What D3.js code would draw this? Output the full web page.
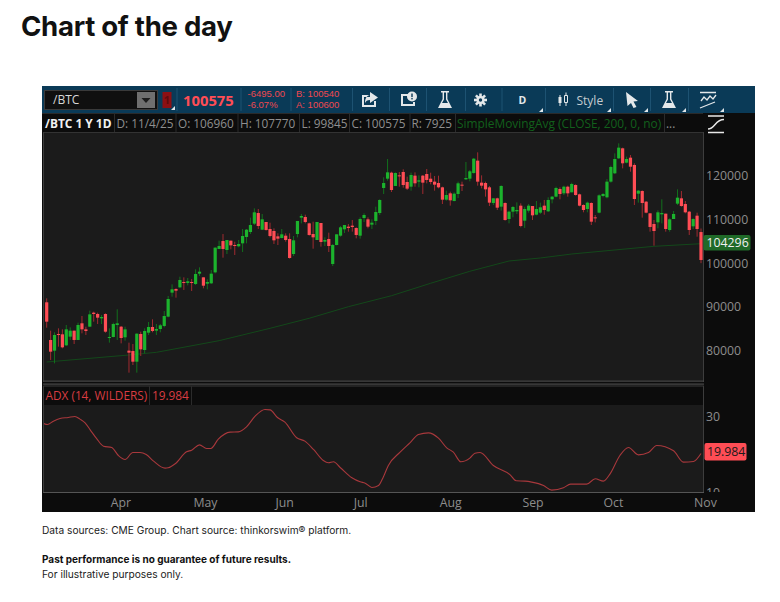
<!DOCTYPE html>
<html>
<head>
<meta charset="utf-8">
<script src="https://cdn.jsdelivr.net/npm/d3@7"></script>
<style>
	html, body { margin: 0; padding: 0; background: #fff; }
	svg { display: block; }
	.tos text { font-family: "Open Sans", sans-serif; }
	.tick line, .domain { display: none; }
</style>
</head>
<body>
<div id="chart"></div>
<script>
// candles, one entry per trading day
const opens = [
	90900,82290,79850,83660,83580,81070,83050,84420,82290,86100,
	84720,85330,88530,88230,87240,88230,82740,82970,85720,85330,
	82900,79850,79770,77330,83660,80000,83960,85260,84420,84800,
	85490,87620,93110,93940,94320,95540,95320,95540,95090,97450,
	96610,95160,95240,97750,103090,104910,102860,104990,104000,103700,
	104380,105830,106970,108880,111310,107500,109260,107660,107200,105980,
	105600,106130,105370,101940,106510,110250,110400,108950,106510,105140,
	109030,104760,105370,99660,104000,106130,107580,108190,108420,107890,
	106130,110170,109870,108650,109490,111310,117030,119160,120530,117490,
	119920,120690,118400,117330,119850,118480,119850,120230,119160,118480,
	118170,117180,114360,115810,114060,115660,117790,119010,119160,120460,
	123280,118250,118170,117180,113600,114670,112760,113600,109940,111620,
	111700,112990,109560,111850,112910,110930,111390,112990,111700,114440,
	115050,116800,115810,117330,116040,117710,115580,113140,112230,113600,
	110320,111390,115200,114900,118480,120380,123810,126100,122820,123960,
	122290,115730,116340,113900,111240,108800,109180,111010,111160,107430,
	109940,113450,114670,113370,111620,108270,110700,106960
];
const highs = [
	91810,84420,84040,84950,84720,85720,85180,84420,86250,87770,
	85330,88990,88760,88530,88000,88380,84950,86250,89300,85490,
	85330,81680,81370,83810,84190,84950,86400,87010,85940,85940,
	88920,92340,95010,94100,96760,96610,96460,96230,98440,98900,
	96610,96150,98290,103470,104990,106510,105140,104990,104760,105140,
	107660,107660,110250,112380,112230,111090,109260,109100,107810,106670,
	107660,106670,106670,106060,109490,111090,110930,109100,109330,109260,
	109030,105750,106820,104230,106440,108340,108570,108800,109710,108040,
	110320,111240,110320,109870,112760,114440,119470,123660,120760,120610,
	120690,121300,119620,120530,120610,119920,120000,121370,120530,119770,
	119850,117330,116420,116190,116040,118480,118480,122970,121140,123890,
	125180,119920,118480,117490,114670,114820,117640,113750,111850,112910,
	113750,113520,112760,113370,112910,114060,113680,114290,114900,115200,
	117330,117180,117560,117560,118250,117870,115730,113300,113910,113750,
	110860,115580,115890,119090,122130,124950,127240,126250,124190,124570,
	122670,116570,116500,114060,111240,109710,111920,114440,111160,110100,
	111770,116720,116340,114060,111770,110100,111390,107770
];
const lows = [
	85100,77720,76950,80760,80380,80910,82290,81370,82290,83810,
	83430,85330,86480,85940,85940,83960,81680,82900,82290,81520,
	82130,74820,76570,74820,78630,79240,83430,84040,83430,84040,
	85180,87470,92190,91960,94170,93720,94780,93490,94860,96920,
	94100,93870,95090,97520,103090,101100,101940,103010,101710,103470,
	102400,104380,106510,108570,107660,107430,107280,105750,104230,104000,
	105520,104760,100880,101490,105750,108950,108950,106130,103160,105140,
	103620,103770,102400,99200,103920,105900,106740,107050,107050,105520,
	105450,109260,107810,107660,108570,110860,115660,118710,116110,117490,
	117330,117110,116570,116420,117330,117180,115660,118100,117870,116420,
	116950,113370,114130,112990,113980,114740,116340,118860,118550,120300,
	117560,116950,115050,112910,113140,112000,111850,109560,108950,110320,
	111090,108040,107890,111390,109710,110780,111090,110930,111540,113520,
	114900,114440,115430,115050,116040,115280,112840,111470,111470,108570,
	109180,111240,114900,114670,118250,120230,123660,121520,122670,120760,
	113140,113680,110250,111240,107050,103850,107810,108950,107050,107050,
	109940,113140,112760,111240,106290,107660,105900,99845
];
const closes = [
	86480,79620,83430,83430,80610,84720,84420,82290,85720,84720,
	84340,88150,88230,87390,87540,84190,82970,85940,86100,82740,
	84720,79390,77330,83730,80150,84340,85260,84340,84800,85640,
	87770,91660,93870,93560,96000,95470,95700,95390,97370,97900,
	94700,95540,97450,103390,103770,103090,105140,103920,103850,104230,
	106060,107500,108570,111470,108340,109870,107430,106060,105070,105450,
	106440,105140,101030,105070,109490,110630,109260,106290,105750,109260,
	104690,105140,103770,104000,106440,108040,108570,107890,108110,106290,
	109940,110860,108190,109100,111540,114290,118170,120610,116570,120460,
	119700,117710,116880,120000,118100,118780,118250,118860,118400,117790,
	117180,114360,115430,114210,115730,118100,117640,119310,120840,123730,
	118480,117560,116720,113680,114670,112530,117490,109710,111620,112690,
	112000,108340,112230,112990,110780,112230,112610,112000,114290,115050,
	117030,115660,117330,115810,117940,115430,112990,112000,113680,109330,
	110100,115350,115660,118480,121830,123660,126250,122670,123660,121900,
	114510,116420,113600,111390,108120,107200,111470,111310,107660,109870,
	111090,114820,112910,111470,107430,109940,107660,100575
];

// 200 day average at a few bars
const smaBars = [0, 21, 28, 44, 57, 67, 77, 88, 98, 108, 118, 126, 134, 155, 167];
const smaValues = [77260, 78860, 79470, 82130, 84960, 87250, 89900, 92410, 95250, 97990, 100340, 101030, 101940, 103700, 104296];

// ADX study
const adxBars = [
	-0.9, 0.2, 1.7, 3.4, 5.5, 7.2, 8.5, 9.8, 11.1, 12.8, 14.5, 16.6, 18.3, 20, 22, 23.8, 25.4, 27.2, 30.2, 31,
	32.8, 35.7, 37, 39, 40.8, 41.9, 43.8, 46.8, 48.9, 51, 53.2, 55.7, 57, 58.9, 60.8, 63.8, 65.9, 68.1, 70.6, 71.9,
	73.2, 74.9, 77.9, 80, 81.3, 83, 84.7, 85.9, 87.2, 90.2, 92.7, 94.9, 97.4, 100, 102.1, 103.8, 105.7, 108, 109.3, 110.6,
	114, 118.3, 119.8, 122.1, 123.8, 126.8, 128.9, 131.9, 133.7, 137.8, 140, 142.1, 143.8, 146.3, 148.5, 151, 153.6, 155.7, 160, 162.5,
	165.1, 167
];
const adxValues = [
	27.98, 27.63, 28.51, 29.21, 29.48, 29.74, 29.04, 28.07, 26.23, 23.86, 21.93, 21.58, 19.48, 18.42, 20.27, 20.27, 19.74, 18.07, 16.14, 16.23,
	17.29, 20.44, 20.88, 22.28, 21.32, 21.32, 23.77, 25.62, 25.7, 27.02, 29.83, 31.58, 31.49, 29.48, 28.25, 24.13, 23.25, 21.06, 18.16, 17.55,
	17.81, 16.32, 13.6, 12.55, 12.2, 11.06, 11.59, 13.78, 16.85, 20.35, 22.81, 25, 25.44, 24.04, 21.49, 20.35, 17.81, 18.78, 20.09, 20.27,
	16.85, 14.39, 12.81, 12.72, 12.46, 11.58, 10.36, 10.97, 11.93, 11.93, 13.34, 12.72, 14.65, 19.48, 21.58, 19.65, 20.27, 22.11, 20.71, 17.72,
	17.9, 19.984
];

const priceTicks = [80000, 90000, 100000, 110000, 120000];
const adxTicks = [10, 30];
const monthNames = ["Apr", "May", "Jun", "Jul", "Aug", "Sep", "Oct", "Nov"];
const monthBars = [18.8, 40.4, 60.6, 80, 103, 124, 144.5, 168];

const headerItems = ["D: 11/4/25", "O: 106960", "H: 107770", "L: 99845", "C: 100575", "R: 7925"];
const headerX = [116.5, 178, 240, 301.5, 351.5, 411.5];

const green = "#1cb32d", greenWick = "#12701d";
const red = "#ff4d55", redWick = "#a02a30";

const svg = d3.select("#chart").append("svg").attr("width", 780).attr("height", 602);

// page text
const pageFont = "Inter, sans-serif";
svg.append("text").attr("x", 21).attr("y", 36).attr("font-family", pageFont)
	.attr("font-size", 27.6).attr("font-weight", 700).attr("letter-spacing", -0.3).attr("fill", "#111").text("Chart of the day");
svg.append("text").attr("x", 42).attr("y", 534).attr("font-family", pageFont).attr("font-size", 10.2).attr("fill", "#222")
	.text("Data sources: CME Group. Chart source: thinkorswim® platform.");
svg.append("text").attr("x", 42).attr("y", 563).attr("font-family", pageFont).attr("font-size", 10).attr("font-weight", 700).attr("fill", "#111")
	.text("Past performance is no guarantee of future results.");
svg.append("text").attr("x", 42).attr("y", 578).attr("font-family", pageFont).attr("font-size", 10.2).attr("fill", "#222")
	.text("For illustrative purposes only.");

const tos = svg.append("g").attr("class", "tos");

// panel background
function box(x, y, w, h, fill, stroke) {
	return tos.append("rect").attr("x", x).attr("y", y).attr("width", w).attr("height", h)
		.attr("fill", fill).attr("stroke", stroke || "none");
}
function label(x, y, txt, size, fill, weight, anchor) {
	return tos.append("text").attr("x", x).attr("y", y).attr("font-size", size).attr("fill", fill)
		.attr("font-weight", weight || 400).attr("text-anchor", anchor || "start").text(txt);
}
function divider(x, y0, y1, col) {
	tos.append("line").attr("x1", x).attr("x2", x).attr("y1", y0).attr("y2", y1).attr("stroke", col);
}

box(42, 86, 713, 426, "#0c0c0c");
box(42, 86, 713, 27, "#0a3a57");

// toolbar
box(44.5, 90.5, 113, 19, "#101010", "#3a3a3a");
label(53, 104, "/BTC", 12, "#d8d8d8");
box(137, 92, 18, 16, "#6f6f6f");
tos.append("path").attr("d", "M141.5 98 L150.5 98 L146 103 Z").attr("fill", "#1d1d1d");
box(162.5, 92, 9, 16, "#8c1014");
label(167, 104, "1", 11, "#5e0b0e", 700, "middle");
[176.5, 240.5, 290.5, 352, 389, 426, 465, 501.5, 545, 613, 650, 688].forEach(x => divider(x + 0.5, 88, 111, "#1d5272"));
label(183, 105.5, "100575", 14.8, red, 700);
// the small quote rows sit tight, so they use a font with less line height
[[247.5, 97.3, "-6495.00"], [247.5, 108.3, "-6.07%"], [296, 97.3, "B: 100540"], [296, 108.3, "A: 100600"]].forEach(r => {
	label(r[0], r[1], r[2], 9.5, "#f0484f").style("font-family", "'Liberation Sans', sans-serif");
});

// toolbar icons
const iconFill = "#e4e8ea";
tos.append("path").attr("fill", iconFill).attr("fill-rule", "evenodd")
	.attr("d", "M362 95 H370 V97 H364 V105 H374 V101 H376 V107 H362 Z M370 92 L378 97.5 L370 103 V100 C367 100 366 101 365 103 C365 98 367 95.5 370 95 Z");
tos.append("path").attr("fill", iconFill).attr("fill-rule", "evenodd")
	.attr("d", "M401 94 H409 V96 H403 V104 H413 V102 H415 V106 H401 Z");
tos.append("circle").attr("cx", 412).attr("cy", 96.5).attr("r", 5).attr("fill", iconFill);
tos.append("rect").attr("x", 411.3).attr("y", 93.5).attr("width", 1.4).attr("height", 3.6).attr("fill", "#0a3a57");
tos.append("rect").attr("x", 411.3).attr("y", 98).attr("width", 1.4).attr("height", 1.4).attr("fill", "#0a3a57");
function flask(cx) {
	tos.append("path").attr("fill", iconFill).attr("fill-rule", "evenodd")
		.attr("d", `M${cx - 4} 91 H${cx + 4} V92.5 H${cx + 2.4} V99 L${cx + 7} 108 H${cx - 7} L${cx - 2.4} 99 V92.5 H${cx - 4} Z M${cx - 1} 92.5 V99.5 L${cx - 3} 103 H${cx + 3} L${cx + 1} 99.5 V92.5 Z`);
}
flask(445);
flask(669);
// gear
tos.append("g").attr("transform", "translate(480.5,100)").selectAll("rect").data(d3.range(4)).join("rect")
	.attr("x", -1.3).attr("y", -6.5).attr("width", 2.6).attr("height", 13).attr("fill", iconFill)
	.attr("transform", d => `rotate(${d * 45})`);
tos.append("circle").attr("cx", 480.5).attr("cy", 100).attr("r", 4).attr("fill", iconFill);
tos.append("circle").attr("cx", 480.5).attr("cy", 100).attr("r", 1.7).attr("fill", "#0a3a57");
label(522.5, 104, "D", 10.5, "#e4e8ea", 700, "middle");
// candle style icon
tos.append("path").attr("fill", iconFill).attr("d", "M558.5 97 H561.5 V103 H558.5 Z M559.5 95 H560.5 V106 H559.5 Z");
tos.append("path").attr("fill", "none").attr("stroke", iconFill).attr("d", "M564.5 95.5 H567.5 V102.5 H564.5 Z M566 92.5 V95.5 M566 102.5 V106");
label(576.5, 104.5, "Style", 12, "#c5ccd0");
// cursor
tos.append("path").attr("fill", iconFill).attr("d", "M626 92 L638 101 L633.5 101.5 L636.5 107 L633.5 108 L631 103 L627.5 106 Z");
// drawing icon
tos.append("path").attr("fill", "none").attr("stroke", iconFill).attr("stroke-width", 1.3)
	.attr("d", "M700 92.5 H716 M701 101 L704 97 L707 100 L710 96 L713 99 L716 95 M700 108 L715 102");
// small corner marks
[172, 540, 608, 645, 683, 721].forEach(x => {
	tos.append("path").attr("d", `M${x + 3} ${x === 172 ? 106 : 108} v4 h-4 Z`).attr("fill", "#dfe6ea");
});

// header row
label(45, 128, "/BTC 1 Y 1D", 11.9, "#f2f2f2", 700);
headerItems.forEach((t, i) => label(headerX[i], 128, t, 11.8, "#8f8f8f"));
label(457, 128, "SimpleMovingAvg (CLOSE, 200, 0, no)", 11.9, "#12601c");
label(666, 128, "...", 11.8, "#8f8f8f");
[114, 175.5, 237.5, 299, 349, 409.5, 455, 664].forEach(x => divider(x + 0.5, 114, 132, "#2b2b2b"));
box(42, 113, 661, 1, "#2a2a2a");
// side toggle icon
tos.append("path").attr("fill", "none").attr("stroke", "#e8e8e8").attr("stroke-width", 1.4)
	.attr("d", "M708 116 H724 M708 132.5 H724 M708 129 C715 129 715 119.5 724 119.5");

// price plot
const plotLeft = 44, plotRight = 703;
box(plotLeft, 132, plotRight - plotLeft, 248.5, "#1b1b1b");
box(plotLeft - 1, 132, 1, 250, "#3d3d3d");
box(plotLeft, 132, plotRight - plotLeft, 1, "#333");
box(plotRight, 132, 1, 250, "#3d3d3d");
box(plotLeft - 1, 380.5, plotRight - plotLeft + 2, 1.2, "#4a4a4a");
box(plotLeft - 1, 383.5, plotRight - plotLeft + 2, 1.2, "#4a4a4a");

const x = d3.scaleLinear().domain([0, 167]).range([46.7, 701]);
const y = d3.scaleLinear().domain([80000, 120000]).range([350, 175]);
const yAdx = d3.scaleLinear().domain([10, 30]).range([491.5, 415.5]);

tos.append("defs").append("clipPath").attr("id", "plot-clip").append("rect")
	.attr("x", plotLeft).attr("y", 132).attr("width", plotRight - plotLeft).attr("height", 249);
const priceG = tos.append("g").attr("clip-path", "url(#plot-clip)");

const smaLine = d3.line().x((d, i) => x(smaBars[i])).y(d => y(d));
priceG.append("path").attr("d", smaLine(smaValues)).attr("fill", "none").attr("stroke", "#13481a").attr("stroke-width", 1);

const candle = priceG.selectAll("g.candle").data(d3.range(opens.length)).join("g").attr("class", "candle");
candle.append("line")
	.attr("x1", i => x(i)).attr("x2", i => x(i))
	.attr("y1", i => y(highs[i])).attr("y2", i => y(lows[i]))
	.attr("stroke", i => closes[i] >= opens[i] ? greenWick : redWick);
candle.append("rect")
	.attr("x", i => x(i) - 1.6).attr("width", 3.2)
	.attr("y", i => y(Math.max(opens[i], closes[i])))
	.attr("height", i => Math.max(1, Math.abs(y(opens[i]) - y(closes[i]))))
	.attr("fill", i => closes[i] >= opens[i] ? green : red);

const axisFont = 12.3;
const priceAxis = d3.axisRight(y).tickValues(priceTicks).tickSize(0).tickPadding(3).tickFormat(d3.format("d"));
tos.append("g").attr("transform", `translate(${plotRight},0.6)`).call(priceAxis)
	.selectAll("text").attr("font-size", axisFont).attr("font-family", "Open Sans, sans-serif").attr("fill", "#8c8c8c");

box(703.5, 235, 47, 15.5, "#1f6a28").attr("rx", 2);
label(706.5, 247.2, "104296", axisFont, "#f0f0f0");

// ADX panel
box(plotLeft - 1, 385.5, plotRight - plotLeft + 2, 1, "#3a3a3a");
box(plotLeft, 405, plotRight - plotLeft, 87, "#1b1b1b");
box(plotLeft - 1, 386, 1, 106, "#3d3d3d");
box(plotRight, 386, 1, 106, "#3d3d3d");
box(plotLeft - 1, 492, plotRight - plotLeft + 2, 1, "#555");
label(45.5, 399.5, "ADX (14, WILDERS)", 11.8, "#d93c42");
label(152, 399.5, "19.984", 11.8, "#d93c42");
divider(149.5, 386, 405, "#2b2b2b");
divider(191.5, 386, 405, "#2b2b2b");

const adxClip = tos.append("defs").append("clipPath").attr("id", "adx-clip");
adxClip.append("rect").attr("x", plotLeft).attr("y", 405).attr("width", plotRight - plotLeft).attr("height", 87);
const adxLine = d3.line().x((d, i) => x(adxBars[i])).y(d => yAdx(d)).curve(d3.curveMonotoneX);
tos.append("g").attr("clip-path", "url(#adx-clip)").append("path").attr("d", adxLine(adxValues))
	.attr("fill", "none").attr("stroke", "#a8383c").attr("stroke-width", 1.1);

const adxAxis = d3.axisRight(yAdx).tickValues(adxTicks).tickSize(0).tickPadding(3);
const adxAxisG = tos.append("g").attr("transform", `translate(${plotRight},0.6)`).call(adxAxis);
adxAxisG.selectAll("text").attr("font-size", axisFont).attr("font-family", "Open Sans, sans-serif").attr("fill", "#8c8c8c");

// bottom strip cuts off the lower half of the "10", as in the platform
box(plotRight + 1, 492, 51, 20, "#0c0c0c");
box(plotRight + 1.5, 443, 42, 17.5, "#ff4d55").attr("rx", 2);
label(707, 456.2, "19.984", axisFont, "#1a1a1a");

const monthAxis = d3.axisBottom(x).tickValues(monthBars).tickSize(0).tickPadding(5).tickFormat((d, i) => monthNames[i]);
tos.append("g").attr("transform", "translate(0,493)").call(monthAxis)
	.selectAll("text").attr("font-size", axisFont).attr("font-family", "Open Sans, sans-serif").attr("fill", "#8c8c8c");
</script>
</body>
</html>
